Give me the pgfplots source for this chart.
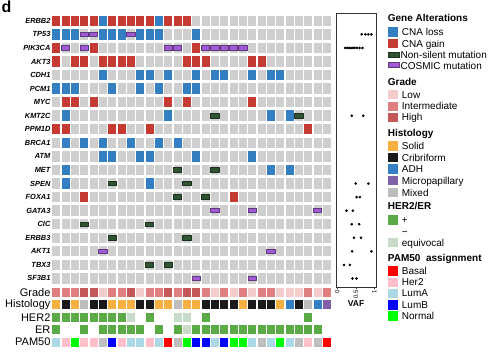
\documentclass[border=0pt]{standalone}
\usepackage{pgfplots}
\pgfplotsset{compat=1.18}
\usepackage{fontspec}
\setmainfont{Liberation Sans}
\definecolor{cgrey}{RGB}{207,207,207}
\definecolor{cblue}{RGB}{52,126,194}
\definecolor{cred}{RGB}{197,58,50}
\definecolor{cgreen}{RGB}{46,84,50}
\definecolor{cgreenb}{RGB}{28,50,30}
\definecolor{cpurp}{RGB}{162,88,215}
\definecolor{cpurpb}{RGB}{92,60,122}
\definecolor{glow}{RGB}{245,204,204}
\definecolor{gint}{RGB}{224,127,127}
\definecolor{ghigh}{RGB}{196,88,88}
\definecolor{hsolid}{RGB}{245,176,65}
\definecolor{hcrib}{RGB}{26,26,26}
\definecolor{hadh}{RGB}{51,128,196}
\definecolor{hmicro}{RGB}{128,96,168}
\definecolor{hmixed}{RGB}{189,189,189}
\definecolor{cposit}{RGB}{90,170,70}
\definecolor{cequiv}{RGB}{200,220,200}
\definecolor{pbasal}{RGB}{255,0,0}
\definecolor{pher2}{RGB}{255,192,203}
\definecolor{pluma}{RGB}{173,216,230}
\definecolor{plumb}{RGB}{0,0,255}
\definecolor{pnormal}{RGB}{0,255,0}
\definecolor{pna}{RGB}{190,190,190}
\pgfdeclareplotmark{gcell}{\pgfpathrectangle{\pgfpoint{-4pt}{-5.2pt}}{\pgfpoint{8pt}{10.4pt}}\pgfusepathqfill}
\pgfdeclareplotmark{acell}{\pgfpathrectangle{\pgfpoint{-4pt}{-4.4pt}}{\pgfpoint{8pt}{8.8pt}}\pgfusepathqfill}
\pgfdeclareplotmark{mbar}{\pgfpathrectangle{\pgfpoint{-4.2pt}{-2.2pt}}{\pgfpoint{8.4pt}{4.4pt}}\pgfusepathqfillstroke}
\newcommand{\gl}[1]{\fontsize{7.4}{8}\selectfont\bfseries\itshape #1}
\newcommand{\al}[1]{\fontsize{11}{12}\selectfont #1}
\newcommand{\lfont}{\fontsize{10}{12}\selectfont}
\newcommand{\hfont}{\fontsize{10}{12}\selectfont\bfseries}
\newcommand{\lgbox}[3]{\fill[#1] (387.7,{355-#2-4.7}) rectangle (398.3,{355-#2+4.7});
  \node[anchor=base west, inner sep=0pt, font=\lfont] at (401.7,{355-#2-3.6}) {#3};}
\newcommand{\lghead}[2]{\node[anchor=base west, inner sep=0pt, font=\hfont] at (387.7,{355-#1-3.6}) {#2};}
\begin{document}
\begin{tikzpicture}[x=1pt,y=1pt]
\useasboundingbox (0,0) rectangle (494,355);
\begin{axis}[
  at={(51.6pt,341pt)}, anchor=north west,
  scale only axis, width=280pt, height=332.2pt,
  xmin=-0.5, xmax=29.5, ymin=-0.5, ymax=24.0,
  y dir=reverse, clip=false,
  axis line style={draw=none}, major tick length=0pt,
  xtick=\empty,
  ytick={0,1,2,3,4,5,6,7,8,9,10,11,12,13,14,15,16,17,18,19,20.04,20.95,21.87,22.78,23.70},
  yticklabels={\gl{ERBB2},\gl{TP53},\gl{PIK3CA},\gl{AKT3},\gl{CDH1},\gl{PCM1},\gl{MYC},\gl{KMT2C},\gl{PPM1D},\gl{BRCA1},\gl{ATM},\gl{MET},\gl{SPEN},\gl{FOXA1},\gl{GATA3},\gl{CIC},\gl{ERBB3},\gl{AKT1},\gl{TBX3},\gl{SF3B1},\al{Grade},\al{Histology},\al{HER2},\al{ER},\al{PAM50}},
  yticklabel style={inner xsep=1pt, inner ysep=0pt},
]
% background cells
\addplot[only marks, mark=gcell, color=cgrey] coordinates {
(0,0)(1,0)(2,0)(3,0)(4,0)(5,0)(6,0)(7,0)(8,0)(9,0)(10,0)(11,0)(12,0)(13,0)(14,0)(15,0)(16,0)(17,0)(18,0)(19,0)(20,0)(21,0)(22,0)(23,0)(24,0)(25,0)(26,0)(27,0)(28,0)(29,0)
(0,1)(1,1)(2,1)(3,1)(4,1)(5,1)(6,1)(7,1)(8,1)(9,1)(10,1)(11,1)(12,1)(13,1)(14,1)(15,1)(16,1)(17,1)(18,1)(19,1)(20,1)(21,1)(22,1)(23,1)(24,1)(25,1)(26,1)(27,1)(28,1)(29,1)
(0,2)(1,2)(2,2)(3,2)(4,2)(5,2)(6,2)(7,2)(8,2)(9,2)(10,2)(11,2)(12,2)(13,2)(14,2)(15,2)(16,2)(17,2)(18,2)(19,2)(20,2)(21,2)(22,2)(23,2)(24,2)(25,2)(26,2)(27,2)(28,2)(29,2)
(0,3)(1,3)(2,3)(3,3)(4,3)(5,3)(6,3)(7,3)(8,3)(9,3)(10,3)(11,3)(12,3)(13,3)(14,3)(15,3)(16,3)(17,3)(18,3)(19,3)(20,3)(21,3)(22,3)(23,3)(24,3)(25,3)(26,3)(27,3)(28,3)(29,3)
(0,4)(1,4)(2,4)(3,4)(4,4)(5,4)(6,4)(7,4)(8,4)(9,4)(10,4)(11,4)(12,4)(13,4)(14,4)(15,4)(16,4)(17,4)(18,4)(19,4)(20,4)(21,4)(22,4)(23,4)(24,4)(25,4)(26,4)(27,4)(28,4)(29,4)
(0,5)(1,5)(2,5)(3,5)(4,5)(5,5)(6,5)(7,5)(8,5)(9,5)(10,5)(11,5)(12,5)(13,5)(14,5)(15,5)(16,5)(17,5)(18,5)(19,5)(20,5)(21,5)(22,5)(23,5)(24,5)(25,5)(26,5)(27,5)(28,5)(29,5)
(0,6)(1,6)(2,6)(3,6)(4,6)(5,6)(6,6)(7,6)(8,6)(9,6)(10,6)(11,6)(12,6)(13,6)(14,6)(15,6)(16,6)(17,6)(18,6)(19,6)(20,6)(21,6)(22,6)(23,6)(24,6)(25,6)(26,6)(27,6)(28,6)(29,6)
(0,7)(1,7)(2,7)(3,7)(4,7)(5,7)(6,7)(7,7)(8,7)(9,7)(10,7)(11,7)(12,7)(13,7)(14,7)(15,7)(16,7)(17,7)(18,7)(19,7)(20,7)(21,7)(22,7)(23,7)(24,7)(25,7)(26,7)(27,7)(28,7)(29,7)
(0,8)(1,8)(2,8)(3,8)(4,8)(5,8)(6,8)(7,8)(8,8)(9,8)(10,8)(11,8)(12,8)(13,8)(14,8)(15,8)(16,8)(17,8)(18,8)(19,8)(20,8)(21,8)(22,8)(23,8)(24,8)(25,8)(26,8)(27,8)(28,8)(29,8)
(0,9)(1,9)(2,9)(3,9)(4,9)(5,9)(6,9)(7,9)(8,9)(9,9)(10,9)(11,9)(12,9)(13,9)(14,9)(15,9)(16,9)(17,9)(18,9)(19,9)(20,9)(21,9)(22,9)(23,9)(24,9)(25,9)(26,9)(27,9)(28,9)(29,9)
(0,10)(1,10)(2,10)(3,10)(4,10)(5,10)(6,10)(7,10)(8,10)(9,10)(10,10)(11,10)(12,10)(13,10)(14,10)(15,10)(16,10)(17,10)(18,10)(19,10)(20,10)(21,10)(22,10)(23,10)(24,10)(25,10)(26,10)(27,10)(28,10)(29,10)
(0,11)(1,11)(2,11)(3,11)(4,11)(5,11)(6,11)(7,11)(8,11)(9,11)(10,11)(11,11)(12,11)(13,11)(14,11)(15,11)(16,11)(17,11)(18,11)(19,11)(20,11)(21,11)(22,11)(23,11)(24,11)(25,11)(26,11)(27,11)(28,11)(29,11)
(0,12)(1,12)(2,12)(3,12)(4,12)(5,12)(6,12)(7,12)(8,12)(9,12)(10,12)(11,12)(12,12)(13,12)(14,12)(15,12)(16,12)(17,12)(18,12)(19,12)(20,12)(21,12)(22,12)(23,12)(24,12)(25,12)(26,12)(27,12)(28,12)(29,12)
(0,13)(1,13)(2,13)(3,13)(4,13)(5,13)(6,13)(7,13)(8,13)(9,13)(10,13)(11,13)(12,13)(13,13)(14,13)(15,13)(16,13)(17,13)(18,13)(19,13)(20,13)(21,13)(22,13)(23,13)(24,13)(25,13)(26,13)(27,13)(28,13)(29,13)
(0,14)(1,14)(2,14)(3,14)(4,14)(5,14)(6,14)(7,14)(8,14)(9,14)(10,14)(11,14)(12,14)(13,14)(14,14)(15,14)(16,14)(17,14)(18,14)(19,14)(20,14)(21,14)(22,14)(23,14)(24,14)(25,14)(26,14)(27,14)(28,14)(29,14)
(0,15)(1,15)(2,15)(3,15)(4,15)(5,15)(6,15)(7,15)(8,15)(9,15)(10,15)(11,15)(12,15)(13,15)(14,15)(15,15)(16,15)(17,15)(18,15)(19,15)(20,15)(21,15)(22,15)(23,15)(24,15)(25,15)(26,15)(27,15)(28,15)(29,15)
(0,16)(1,16)(2,16)(3,16)(4,16)(5,16)(6,16)(7,16)(8,16)(9,16)(10,16)(11,16)(12,16)(13,16)(14,16)(15,16)(16,16)(17,16)(18,16)(19,16)(20,16)(21,16)(22,16)(23,16)(24,16)(25,16)(26,16)(27,16)(28,16)(29,16)
(0,17)(1,17)(2,17)(3,17)(4,17)(5,17)(6,17)(7,17)(8,17)(9,17)(10,17)(11,17)(12,17)(13,17)(14,17)(15,17)(16,17)(17,17)(18,17)(19,17)(20,17)(21,17)(22,17)(23,17)(24,17)(25,17)(26,17)(27,17)(28,17)(29,17)
(0,18)(1,18)(2,18)(3,18)(4,18)(5,18)(6,18)(7,18)(8,18)(9,18)(10,18)(11,18)(12,18)(13,18)(14,18)(15,18)(16,18)(17,18)(18,18)(19,18)(20,18)(21,18)(22,18)(23,18)(24,18)(25,18)(26,18)(27,18)(28,18)(29,18)
(0,19)(1,19)(2,19)(3,19)(4,19)(5,19)(6,19)(7,19)(8,19)(9,19)(10,19)(11,19)(12,19)(13,19)(14,19)(15,19)(16,19)(17,19)(18,19)(19,19)(20,19)(21,19)(22,19)(23,19)(24,19)(25,19)(26,19)(27,19)(28,19)(29,19)
};
% CNA loss
\addplot[only marks, mark=gcell, color=cblue] coordinates {
(5,0)(11,0)
(0,1)(1,1)(2,1)(5,1)(6,1)(7,1)(9,1)(10,1)(11,1)(15,1)
(5,4)(9,4)(10,4)(12,4)(15,4)(17,4)(18,4)(21,4)(23,4)(24,4)
(0,5)(1,5)(2,5)(6,5)(9,5)(11,5)(14,5)(15,5)
(1,7)(12,7)(23,7)(25,7)
(1,9)(3,9)(5,9)(8,9)(11,9)(13,9)
(5,10)(6,10)(9,10)(10,10)(15,10)(21,10)
(1,11)(23,11)(25,11)
(1,12)(10,12)
};
% CNA gain
\addplot[only marks, mark=gcell, color=cred] coordinates {
(0,0)(1,0)(2,0)(3,0)(4,0)(6,0)(7,0)(8,0)(9,0)(10,0)(12,0)(13,0)(14,0)
(0,2)(4,2)(15,2)
(0,3)(2,3)(3,3)(5,3)(6,3)(7,3)(8,3)(14,3)(15,3)(16,3)(21,3)(22,3)
(1,6)(2,6)(4,6)(12,6)(14,6)(21,6)
(0,8)(1,8)(6,8)(7,8)(10,8)(27,8)
(3,13)(19,13)
};
% Non-silent mutation
\addplot[only marks, mark=mbar, mark options={fill=cgreen, draw=cgreenb, line width=0.7pt}] coordinates {
(17,7)(26,7)(13,11)(17,11)(6,12)(14,12)(13,13)(16,13)(3,15)(10,15)(6,16)(14,16)(10,18)(12,18)
};
% COSMIC mutation
\addplot[only marks, mark=mbar, mark options={fill=cpurp, draw=cpurpb, line width=0.7pt}] coordinates {
(3,1)(4,1)(8,1)
(1,2)(3,2)(12,2)(13,2)(16,2)(17,2)(18,2)(19,2)(20,2)
(17,14)(21,14)(28,14)(5,17)(23,17)(15,19)(21,19)
};
% Grade
\addplot[only marks, mark=acell, color=glow] coordinates {(5,20.04)(9,20.04)(17,20.04)(19,20.04)(21,20.04)(24,20.04)(25,20.04)(26,20.04)(28,20.04)};
\addplot[only marks, mark=acell, color=gint] coordinates {(0,20.04)(1,20.04)(2,20.04)(6,20.04)(7,20.04)(10,20.04)(11,20.04)(13,20.04)(16,20.04)(18,20.04)(20,20.04)(22,20.04)(23,20.04)(27,20.04)(29,20.04)};
\addplot[only marks, mark=acell, color=ghigh] coordinates {(3,20.04)(4,20.04)(8,20.04)(12,20.04)(14,20.04)(15,20.04)};
% Histology
\addplot[only marks, mark=acell, color=hsolid] coordinates {(0,20.95)(2,20.95)(6,20.95)(7,20.95)(8,20.95)(11,20.95)(12,20.95)(14,20.95)(15,20.95)(20,20.95)(24,20.95)};
\addplot[only marks, mark=acell, color=hcrib] coordinates {(1,20.95)(4,20.95)(5,20.95)(9,20.95)(10,20.95)(16,20.95)(17,20.95)(18,20.95)(19,20.95)(21,20.95)(22,20.95)(23,20.95)(26,20.95)};
\addplot[only marks, mark=acell, color=hadh] coordinates {(25,20.95)(28,20.95)};
\addplot[only marks, mark=acell, color=hmicro] coordinates {(29,20.95)};
\addplot[only marks, mark=acell, color=hmixed] coordinates {(3,20.95)(13,20.95)(27,20.95)};
% HER2
\addplot[only marks, mark=acell, color=cposit] coordinates {(0,21.87)(1,21.87)(2,21.87)(3,21.87)(4,21.87)(5,21.87)(6,21.87)(7,21.87)(10,21.87)(16,21.87)(27,21.87)};
\addplot[only marks, mark=acell, color=cequiv] coordinates {(8,21.87)(13,21.87)(14,21.87)};
% ER
\addplot[only marks, mark=acell, color=cposit] coordinates {(0,22.78)(3,22.78)(5,22.78)(6,22.78)(7,22.78)(8,22.78)(9,22.78)(11,22.78)(13,22.78)(15,22.78)(16,22.78)(17,22.78)(18,22.78)(19,22.78)(20,22.78)(21,22.78)(22,22.78)(23,22.78)(24,22.78)(25,22.78)(26,22.78)(27,22.78)(28,22.78)};
\addplot[only marks, mark=acell, color=cequiv] coordinates {(14,22.78)};
% PAM50
\addplot[only marks, mark=acell, color=pluma] coordinates {(0,23.70)(8,23.70)(9,23.70)(11,23.70)(17,23.70)(21,23.70)(23,23.70)(25,23.70)};
\addplot[only marks, mark=acell, color=pher2] coordinates {(1,23.70)(3,23.70)(4,23.70)(7,23.70)(10,23.70)(27,23.70)};
\addplot[only marks, mark=acell, color=pnormal] coordinates {(2,23.70)(14,23.70)(19,23.70)(20,23.70)(24,23.70)};
\addplot[only marks, mark=acell, color=plumb] coordinates {(6,23.70)(15,23.70)(16,23.70)(18,23.70)};
\addplot[only marks, mark=acell, color=pbasal] coordinates {(12,23.70)(29,23.70)};
\addplot[only marks, mark=acell, color=pna] coordinates {(5,23.70)(13,23.70)(22,23.70)(26,23.70)(28,23.70)};
\end{axis}
% VAF panel
\begin{axis}[
  at={(336pt,342pt)}, anchor=north west,
  scale only axis, width=40pt, height=274.3pt,
  xmin=-0.035, xmax=1.046, ymin=-0.575, ymax=19.65,
  y dir=reverse,
  ytick=\empty, xtick={0,0.5,1}, xticklabels={0,0.5,1},
  xtick pos=left, tick align=outside, major tick length=2pt,
  xticklabel style={rotate=90, anchor=east, font=\fontsize{6}{7}\selectfont, inner sep=0.8pt},
  axis line style={draw=black!80, line width=0.8pt},
  tick style={black!80, line width=0.6pt},
  xlabel={VAF}, xlabel style={font=\fontsize{8.5}{9}\selectfont\bfseries, inner sep=0pt, yshift=-1pt},
]
\addplot[only marks, mark=*, mark size=1.1pt, black] coordinates {
(0.66,1)(0.76,1)(0.84,1)(0.92,1)
(0.21,2)(0.27,2)(0.32,2)(0.37,2)(0.42,2)(0.47,2)(0.53,2)(0.60,2)(0.68,2)
(0.39,7)(0.70,7)
(0.50,12)(0.84,12)
(0.52,13)(0.61,13)
(0.25,14)(0.42,14)
(0.39,15)(0.59,15)
(0.45,16)(0.64,16)
(0.40,17)(0.92,17)
(0.18,18)(0.34,18)
(0.41,19)(0.52,19)
};
\end{axis}
% panel letter
\node[anchor=base west, inner sep=0pt, font=\fontsize{16}{18}\selectfont\bfseries] at (1.5,{355-12.5}) {d};
% legend
\lghead{18.3}{Gene Alterations}
\lgbox{cblue}{32}{CNA loss}
\lgbox{cred}{43.8}{CNA gain}
\filldraw[fill=cgreen, draw=cgreenb, line width=0.6pt] (388,{355-57.3}) rectangle (399.5,{355-52.7});
\node[anchor=base west, inner sep=0pt, font=\lfont] at (400.5,{355-55-3.6}) {Non-silent mutation};
\filldraw[fill=cpurp, draw=cpurpb, line width=0.6pt] (388,{355-67.3}) rectangle (399.5,{355-62.7});
\node[anchor=base west, inner sep=0pt, font=\lfont] at (400.5,{355-65.5-3.6}) {COSMIC mutation};
\lghead{81.7}{Grade}
\lgbox{glow}{94.7}{Low}
\lgbox{gint}{106.3}{Intermediate}
\lgbox{ghigh}{117.3}{High}
\lghead{133.3}{Histology}
\lgbox{hsolid}{146.2}{Solid}
\lgbox{hcrib}{157.8}{Cribriform}
\lgbox{hadh}{169.2}{ADH}
\lgbox{hmicro}{180.8}{Micropapillary}
\lgbox{hmixed}{192.8}{Mixed}
\lghead{206}{HER2/ER}
\lgbox{cposit}{220}{+}
\lgbox{white}{231.5}{−}
\lgbox{cequiv}{242.8}{equivocal}
\lghead{258.3}{PAM50 \ assignment}
\lgbox{pbasal}{271}{Basal}
\lgbox{pher2}{282.3}{Her2}
\lgbox{pluma}{293.3}{LumA}
\lgbox{plumb}{305}{LumB}
\lgbox{pnormal}{316}{Normal}
\end{tikzpicture}
\end{document}
